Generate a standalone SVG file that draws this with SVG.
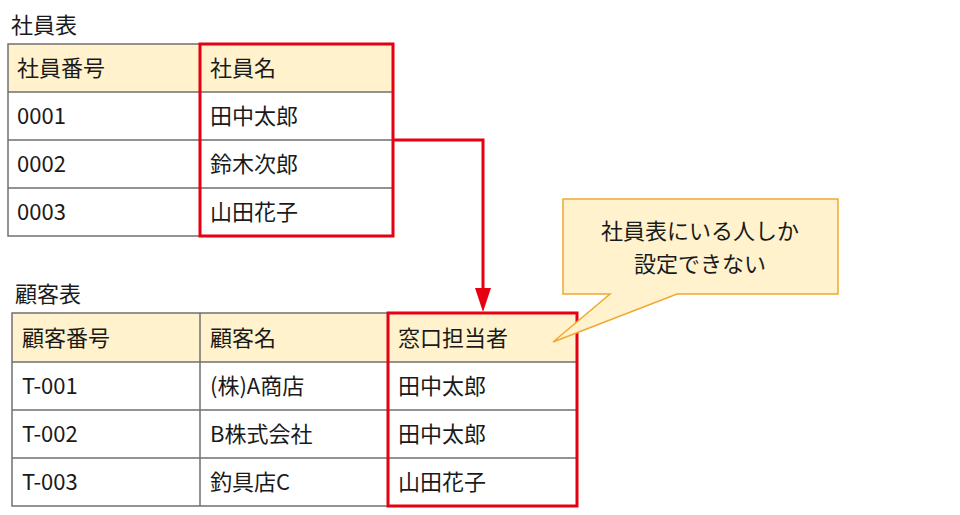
<svg xmlns="http://www.w3.org/2000/svg" width="960" height="515" viewBox="0 0 960 515">
<style>
text{font-family:"Noto Sans CJK JP","Noto Sans",sans-serif;font-size:22px;fill:#1a1a1a}
.hd{fill:#FFF2CC;stroke:none}
.grid{fill:none;stroke:#707070;stroke-width:1.5}
.red{fill:none;stroke:#E60012;stroke-width:3}
.ct{text-anchor:middle}
</style>
<g id="employee-table">
<text x="11" y="33">社員表</text>
<rect class="hd" x="8" y="44" width="385" height="48"/>
<rect x="8" y="92" width="385" height="144" fill="#fff"/>
<path class="grid" d="M8 44H393V236H8Z M200 44V236 M8 92H393 M8 140H393 M8 188H393"/>
<text x="17" y="76">社員番号</text>
<text x="210" y="76">社員名</text>
<text x="17" y="124">0001</text>
<text x="210" y="124">田中太郎</text>
<text x="17" y="172">0002</text>
<text x="210" y="172">鈴木次郎</text>
<text x="17" y="220">0003</text>
<text x="210" y="220">山田花子</text>
<rect class="red" x="200" y="44" width="193" height="192"/>
</g>
<g id="customer-table">
<text x="15" y="302">顧客表</text>
<rect class="hd" x="12" y="313" width="565" height="49"/>
<rect x="12" y="362" width="565" height="144" fill="#fff"/>
<path class="grid" d="M12 313H577V506H12Z M200 313V506 M388 313V506 M12 362H577 M12 410H577 M12 458H577"/>
<text x="22" y="346">顧客番号</text>
<text x="210" y="346">顧客名</text>
<text x="398" y="346">窓口担当者</text>
<text x="22" y="394">T-001</text>
<text x="210" y="394">(株)A商店</text>
<text x="398" y="394">田中太郎</text>
<text x="22" y="442">T-002</text>
<text x="210" y="442">B株式会社</text>
<text x="398" y="442">田中太郎</text>
<text x="22" y="490">T-003</text>
<text x="210" y="490">釣具店C</text>
<text x="398" y="490">山田花子</text>
<rect class="red" x="388" y="313" width="189" height="193"/>
</g>
<g id="connectors">
<path d="M393 140H483V290" fill="none" stroke="#E60012" stroke-width="3"/>
<path d="M475 288L491 288L483 312Z" fill="#E60012"/>
</g>
<g id="callout">
<path d="M563 199H838V294H677L553 342L610 294H563Z" fill="#FFF2CC" stroke="#F0A830" stroke-width="1.5"/>
<text class="ct" x="700" y="239">社員表にいる人しか</text>
<text class="ct" x="700" y="272">設定できない</text>
</g>
</svg>
